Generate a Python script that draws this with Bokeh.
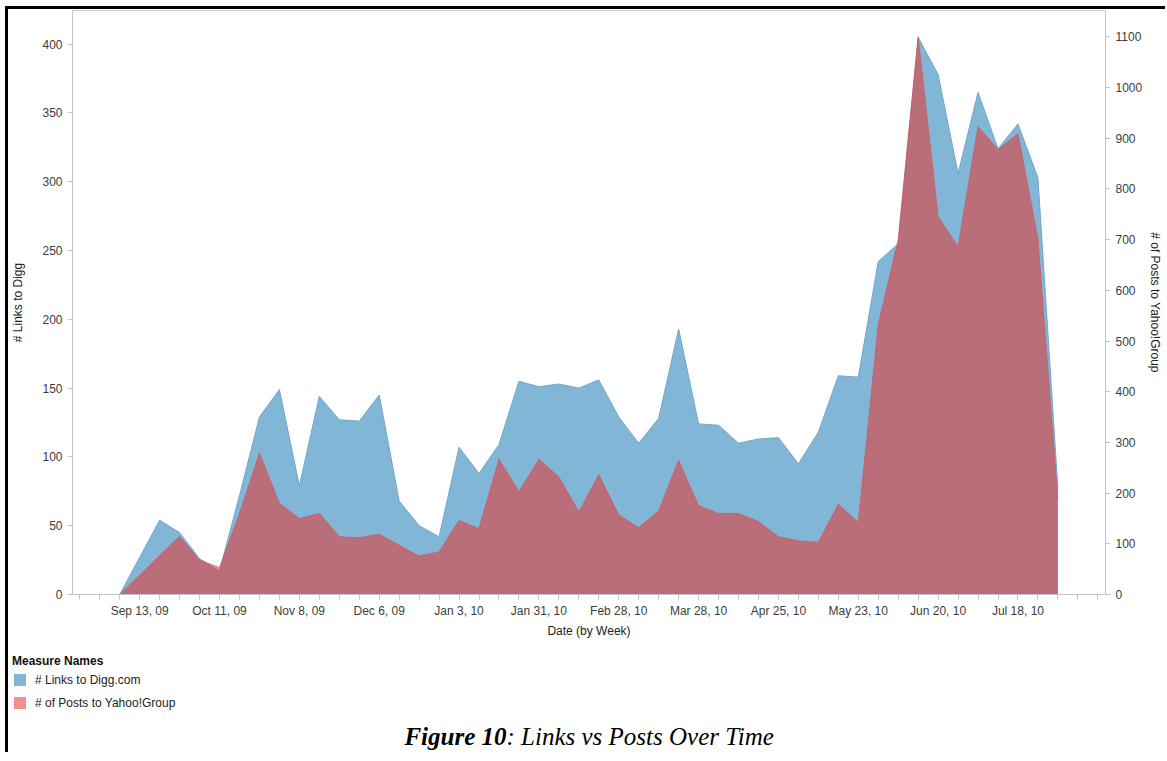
import pandas as pd
from bokeh.plotting import figure
from bokeh.layouts import column
from bokeh.models import (Range1d, LinearAxis, FixedTicker, CustomJSTickFormatter,
                          Legend, LegendItem, Label, ColumnDataSource)
from bokeh.embed import file_html
from bokeh.resources import INLINE

# ---------------- data ----------------
first_week = "2009-09-06"
digg_links = [0, 27, 54, 45, 26, 17, 72, 129, 149, 79,
              144, 127, 126, 145, 68, 50, 42, 107, 88, 109,
              155, 151, 153, 150, 156, 129, 110, 128, 193, 124,
              123, 110, 113, 114, 95, 118, 159, 158, 242, 255,
              405, 378, 306, 365, 324, 342, 303, 77]
yahoo_posts = [0, 38, 77, 115, 68, 53, 160, 279, 180, 150,
               160, 114, 112, 119, 97, 76, 84, 146, 130, 267,
               203, 267, 232, 163, 236, 157, 132, 165, 265, 175,
               160, 160, 144, 114, 106, 103, 178, 142, 532, 700,
               1100, 745, 686, 923, 878, 909, 702, 186]
left_ticks = [0, 50, 100, 150, 200, 250, 300, 350, 400]
right_ticks = [0, 100, 200, 300, 400, 500, 600, 700, 800, 900, 1000, 1100]
first_label_week = "2009-09-13"
n_labels = 12
first_minor_week = "2009-08-16"
n_minor = 53
series_names = ["# Links to Digg.com", "# of Posts to Yahoo!Group"]
legend_title = "Measure Names"
caption_parts = ["Figure 10", ": Links vs Posts Over Time"]

weeks = pd.date_range(first_week, periods=len(digg_links), freq="7D")
src = ColumnDataSource(dict(week=weeks, digg=digg_links, posts=yahoo_posts,
                            zero=[0] * len(weeks)))

wk = pd.Timedelta(days=7)
x_start = pd.Timestamp(first_week) - 2.365 * wk
x_end = pd.Timestamp(first_week) + 49.385 * wk

FONT = "Liberation Sans"
BLUE = "#81b6d6"
RED = "#e83630"
RED_ALPHA = 0.56

W = 1157
p = figure(width=W, height=633, x_axis_type="datetime",
           x_range=Range1d(x_start, x_end), y_range=Range1d(0, 424.5),
           output_backend="svg", toolbar_location=None,
           min_border_left=64, min_border_right=58, min_border_top=1,
           min_border_bottom=48)
p.frame_align = False
p.extra_y_ranges = {"posts": Range1d(0, 1152)}
p.xgrid.visible = False
p.ygrid.visible = False
p.outline_line_color = "#c8c8c8"
p.background_fill_color = "white"
p.border_fill_color = "white"

r_blue = p.varea(x="week", y1="zero", y2="digg", source=src,
                 fill_color=BLUE, fill_alpha=1.0)
p.line(x="week", y="digg", source=src, line_color="#6ea8cd", line_width=1)
r_red = p.varea(x="week", y1="zero", y2="posts", source=src, y_range_name="posts",
                fill_color=RED, fill_alpha=RED_ALPHA)
p.line(x="week", y="posts", source=src, y_range_name="posts",
       line_color="#d9535a", line_width=1, line_alpha=0.7)

axis_col = "#c4c4c4"
tick_col = "#3c3c3c"

# x axis
xa = p.xaxis[0]
major = [pd.Timestamp(first_label_week) + k * 4 * wk for k in range(n_labels)]
minor = [pd.Timestamp(first_minor_week) + k * wk for k in range(n_minor)]
to_ms = lambda t: t.value / 1e6
xa.ticker = FixedTicker(ticks=[to_ms(t) for t in major], minor_ticks=[to_ms(t) for t in minor])
xa.formatter = CustomJSTickFormatter(code="""
const m = ["Jan","Feb","Mar","Apr","May","Jun","Jul","Aug","Sep","Oct","Nov","Dec"];
const d = new Date(tick);
return m[d.getUTCMonth()] + " " + d.getUTCDate() + ", " + String(d.getUTCFullYear()).slice(2);
""")
xa.axis_label = "Date (by Week)"

# left axis
ya = p.yaxis[0]
ya.ticker = FixedTicker(ticks=left_ticks)
ya.axis_label = "# Links to Digg"

# right axis
ra = LinearAxis(y_range_name="posts", ticker=FixedTicker(ticks=right_ticks),
                axis_label="# of Posts to Yahoo!Group")
p.add_layout(ra, "right")

for ax in (xa, ya, ra):
    ax.axis_line_color = axis_col
    ax.major_tick_line_color = axis_col
    ax.minor_tick_line_color = axis_col
    ax.major_tick_in = 0
    ax.major_tick_out = 5
    ax.minor_tick_in = 0
    ax.minor_tick_out = 5
    ax.major_label_text_font = FONT
    ax.major_label_text_font_size = "12px"
    ax.major_label_text_color = tick_col
    ax.axis_label_text_font = FONT
    ax.axis_label_text_font_size = "12px"
    ax.axis_label_text_font_style = "normal"
    ax.axis_label_text_color = "#222222"
    ax.major_label_standoff = 5
for ax in (ya, ra):
    ax.minor_tick_line_color = None
ya.axis_label_standoff = 14
ra.axis_label_standoff = 3
xa.axis_label_standoff = 3
xa.major_label_standoff = 4

# ---------------- legend + caption strip ----------------
H2 = 110
q = figure(width=W, height=H2, x_range=Range1d(0, W), y_range=Range1d(0, H2),
           output_backend="svg", toolbar_location=None,
           min_border=0, min_border_left=0, min_border_right=0,
           min_border_top=0, min_border_bottom=0,
           x_axis_location=None, y_axis_location=None)
q.frame_align = False
q.xgrid.visible = False
q.ygrid.visible = False
q.outline_line_color = None
q.background_fill_color = "white"
q.border_fill_color = "white"

# swatch renderers for the legend, placed outside the visible range
l_blue = q.varea(x=[-20, -10], y1=[0, 0], y2=[1, 1], fill_color=BLUE, fill_alpha=1.0)
l_red = q.varea(x=[-20, -10], y1=[0, 0], y2=[1, 1], fill_color=RED, fill_alpha=RED_ALPHA)

legend = Legend(items=[LegendItem(label=series_names[0], renderers=[l_blue]),
                       LegendItem(label=series_names[1], renderers=[l_red])],
                title=legend_title, location=(4, 42), orientation="vertical")
legend.title_text_font = FONT
legend.title_text_font_size = "12px"
legend.title_text_font_style = "bold"
legend.title_text_color = "#111111"
legend.title_standoff = 4
legend.label_text_font = FONT
legend.label_text_font_size = "12px"
legend.label_text_color = "#222222"
legend.glyph_width = 15
legend.glyph_height = 15
legend.label_height = 15
legend.spacing = 8
legend.padding = 0
legend.margin = 0
legend.label_standoff = 8
legend.border_line_color = None
legend.background_fill_alpha = 0
q.add_layout(legend)

cap1 = Label(x=498, y=16, text=caption_parts[0],
             text_align="right", text_baseline="middle", text_font="Liberation Serif",
             text_font_style="bold italic", text_font_size="25px", text_color="black")
cap2 = Label(x=498, y=16, text=caption_parts[1],
             text_align="left", text_baseline="middle", text_font="Liberation Serif",
             text_font_style="italic", text_font_size="25px", text_color="black")
q.add_layout(cap1)
q.add_layout(cap2)

layout = column(p, q, spacing=0)
layout.styles = {"margin-left": "5px", "margin-top": "6px",
                 "border-left": "3px solid black", "border-top": "3px solid black"}

open("out.html", "w").write(file_html(layout, INLINE))
